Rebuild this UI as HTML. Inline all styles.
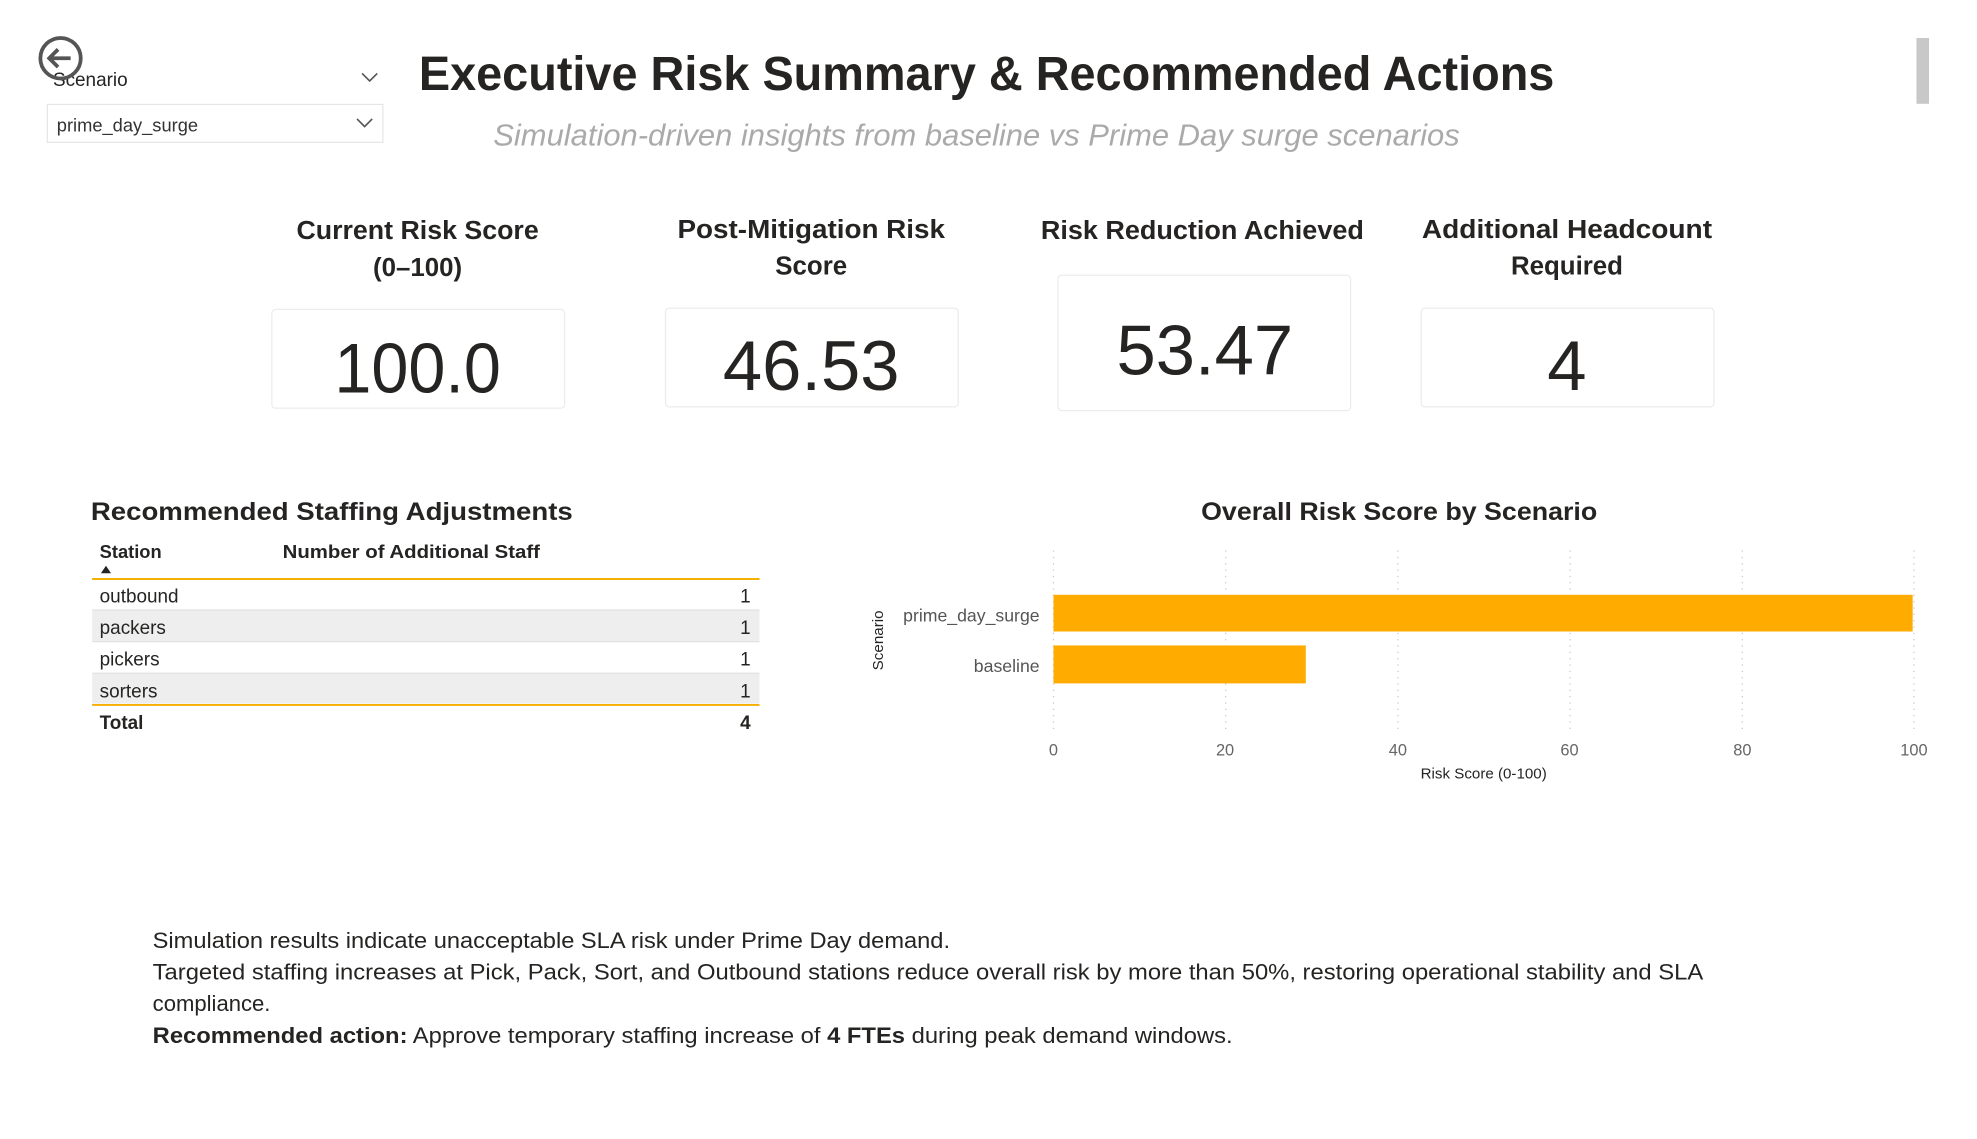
<!DOCTYPE html>
<html><head><meta charset="utf-8"><style>html,body{margin:0;padding:0;background:#fff;overflow:hidden}svg{display:block}</style></head>
<body>
<svg width="1977" height="1139" viewBox="0 0 1567 900" preserveAspectRatio="none" xmlns="http://www.w3.org/2000/svg" font-family="Liberation Sans, sans-serif">
<rect width="1567" height="900" fill="#fff"/>
<rect x="1519" y="30" width="10" height="52" fill="#c8c8c8"/>
<text x="42" y="68" font-size="15" fill="#252423">Scenario</text>
<circle cx="48" cy="46" r="16" fill="none" stroke="#555" stroke-width="3"/>
<path d="M56 46 H40 M46 39 L39 46 L46 53" fill="none" stroke="#555" stroke-width="3"/>
<path d="M287 58 L293 64 L299 58" fill="none" stroke="#555" stroke-width="1.3"/>
<rect x="37.5" y="82.5" width="266" height="30" fill="#fff" stroke="#e6e6e6"/>
<text x="45" y="104" font-size="14.5" fill="#333">prime_day_surge</text>
<path d="M283 94 L289 100 L295 94" fill="none" stroke="#555" stroke-width="1.3"/>
<text x="332" y="71" font-size="38" font-weight="bold" fill="#252423" textLength="900" lengthAdjust="spacingAndGlyphs">Executive Risk Summary &amp; Recommended Actions</text>
<text x="391" y="115" font-size="24" font-style="italic" fill="#aaa" textLength="766" lengthAdjust="spacingAndGlyphs">Simulation-driven insights from baseline vs Prime Day surge scenarios</text>
<g font-size="20.5" font-weight="bold" fill="#252423" text-anchor="middle">
<text x="331" y="189" textLength="192" lengthAdjust="spacingAndGlyphs">Current Risk Score</text>
<text x="331" y="218">(0–100)</text>
<text x="643" y="188" textLength="212" lengthAdjust="spacingAndGlyphs">Post-Mitigation Risk</text>
<text x="643" y="217">Score</text>
<text x="953" y="189" textLength="256" lengthAdjust="spacingAndGlyphs">Risk Reduction Achieved</text>
<text x="1242" y="188" textLength="230" lengthAdjust="spacingAndGlyphs">Additional Headcount</text>
<text x="1242" y="217">Required</text>
</g>
<g fill="#fff" stroke="#ececec">
<rect x="215.5" y="244.5" width="232" height="78" rx="3"/>
<rect x="527.5" y="243.5" width="232" height="78" rx="3"/>
<rect x="838.5" y="217.5" width="232" height="107" rx="3"/>
<rect x="1126.5" y="243.5" width="232" height="78" rx="3"/>
</g>
<g font-size="56" fill="#252423" text-anchor="middle">
<text x="331" y="310" textLength="132" lengthAdjust="spacingAndGlyphs">100.0</text>
<text x="643" y="308" textLength="140" lengthAdjust="spacingAndGlyphs">46.53</text>
<text x="955" y="296" textLength="140" lengthAdjust="spacingAndGlyphs">53.47</text>
<text x="1242" y="308">4</text>
</g>
<text x="72" y="411" font-size="20" font-weight="bold" fill="#252423" textLength="382" lengthAdjust="spacingAndGlyphs">Recommended Staffing Adjustments</text>
<text x="79" y="441" font-size="14.5" font-weight="bold" fill="#252423">Station</text>
<text x="224" y="441" font-size="14.5" font-weight="bold" fill="#252423" textLength="204" lengthAdjust="spacingAndGlyphs">Number of Additional Staff</text>
<path d="M80 453 L84 447 L88 453 Z" fill="#252423"/>
<rect x="73" y="482" width="529" height="25" fill="#eeeeee"/>
<rect x="73" y="532" width="529" height="24" fill="#eeeeee"/>
<line x1="73" y1="482" x2="602" y2="482" stroke="#e2e2e2"/>
<line x1="73" y1="507" x2="602" y2="507" stroke="#e2e2e2"/>
<line x1="73" y1="532" x2="602" y2="532" stroke="#e2e2e2"/>
<line x1="73" y1="457.5" x2="602" y2="457.5" stroke="#f5b000" stroke-width="1.5"/>
<line x1="73" y1="557" x2="602" y2="557" stroke="#f5b000" stroke-width="1.5"/>
<g font-size="15" fill="#252423">
<text x="79" y="476">outbound</text><text x="595" y="476" text-anchor="end">1</text>
<text x="79" y="501">packers</text><text x="595" y="501" text-anchor="end">1</text>
<text x="79" y="526">pickers</text><text x="595" y="526" text-anchor="end">1</text>
<text x="79" y="551">sorters</text><text x="595" y="551" text-anchor="end">1</text>
<text x="79" y="576" font-weight="bold">Total</text><text x="595" y="576" text-anchor="end" font-weight="bold">4</text>
</g>
<text x="1109" y="411" font-size="20" font-weight="bold" fill="#252423" text-anchor="middle" textLength="314" lengthAdjust="spacingAndGlyphs">Overall Risk Score by Scenario</text>
<g stroke="#c8c8c8" stroke-dasharray="1 4" stroke-width="1">
<line x1="835" y1="435" x2="835" y2="580"/><line x1="971.5" y1="435" x2="971.5" y2="580"/>
<line x1="1108" y1="435" x2="1108" y2="580"/><line x1="1244.5" y1="435" x2="1244.5" y2="580"/>
<line x1="1381" y1="435" x2="1381" y2="580"/><line x1="1517" y1="435" x2="1517" y2="580"/>
</g>
<rect x="835" y="470" width="681" height="29" fill="#FFAB00"/>
<rect x="835" y="510" width="200" height="30" fill="#FFAB00"/>
<g font-size="14" fill="#555" text-anchor="end">
<text x="824" y="491">prime_day_surge</text>
<text x="824" y="531">baseline</text>
</g>
<g font-size="13" fill="#666" text-anchor="middle">
<text x="835" y="597">0</text><text x="971" y="597">20</text><text x="1108" y="597">40</text>
<text x="1244" y="597">60</text><text x="1381" y="597">80</text><text x="1517" y="597">100</text>
</g>
<text x="1176" y="615" font-size="12" fill="#252423" text-anchor="middle">Risk Score (0-100)</text>
<text transform="translate(700,506) rotate(-90)" font-size="12" fill="#252423" text-anchor="middle">Scenario</text>
<g font-size="17.5" fill="#252423">
<text x="121" y="749" textLength="632" lengthAdjust="spacingAndGlyphs">Simulation results indicate unacceptable SLA risk under Prime Day demand.</text>
<text x="121" y="774" textLength="1229" lengthAdjust="spacingAndGlyphs"> Targeted staffing increases at Pick, Pack, Sort, and Outbound stations reduce overall risk by more than 50%, restoring operational stability and SLA</text>
<text x="121" y="799">compliance.</text>
<text x="121" y="824" textLength="856" lengthAdjust="spacingAndGlyphs"><tspan font-weight="bold">Recommended action:</tspan> Approve temporary staffing increase of <tspan font-weight="bold">4 FTEs</tspan> during peak demand windows.</text>
</g>
</svg>
</body></html>
